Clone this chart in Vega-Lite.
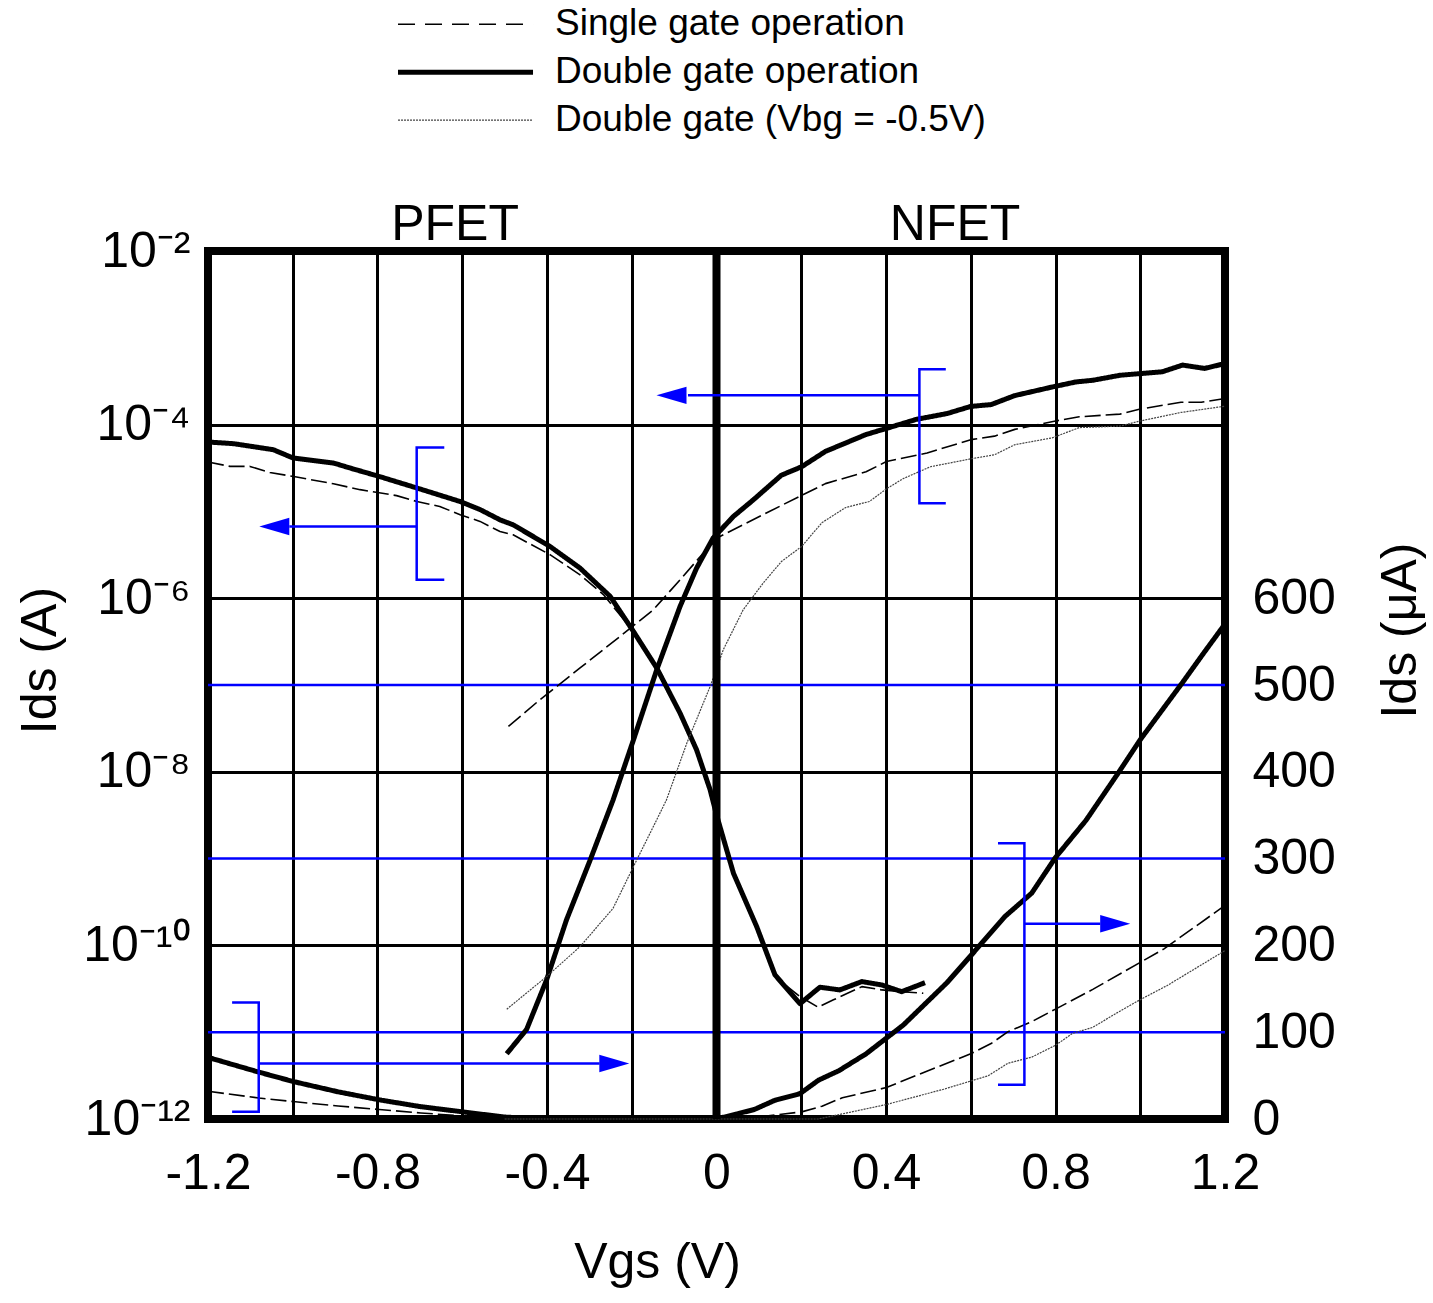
{
  "$schema": "https://vega.github.io/schema/vega-lite/v6.json",
  "width": 1017,
  "height": 868,
  "autosize": {"type": "none"},
  "padding": {"left": 208, "top": 251, "right": 208, "bottom": 184},
  "background": "white",
  "config": {
    "font": "Liberation Sans",
    "view": {"stroke": "black", "strokeWidth": 8},
    "axis": {
      "labelFont": "Liberation Sans",
      "titleFont": "Liberation Sans",
      "labelColor": "black",
      "titleColor": "black",
      "labelFontSize": 50,
      "titleFontSize": 50,
      "titleFontWeight": "normal",
      "ticks": false,
      "domain": false,
      "labelOverlap": false,
      "labelFlush": false
    }
  },
  "datasets": {
    "bluegrid": [{"uA": 100}, {"uA": 300}, {"uA": 500}],
    "zero": [{"v": 0}],
    "logc": [
      {"s": "DG", "c": "P", "v": -1.2, "I": 6.3e-5},
      {"s": "DG", "c": "P", "v": -1.14, "I": 6.03e-5},
      {"s": "DG", "c": "P", "v": -1.046, "I": 5.14e-5},
      {"s": "DG", "c": "P", "v": -0.999, "I": 4.12e-5},
      {"s": "DG", "c": "P", "v": -0.904, "I": 3.61e-5},
      {"s": "DG", "c": "P", "v": -0.857, "I": 3.08e-5},
      {"s": "DG", "c": "P", "v": -0.802, "I": 2.58e-5},
      {"s": "DG", "c": "P", "v": -0.707, "I": 1.86e-5},
      {"s": "DG", "c": "P", "v": -0.605, "I": 1.3e-5},
      {"s": "DG", "c": "P", "v": -0.558, "I": 1.05e-5},
      {"s": "DG", "c": "P", "v": -0.511, "I": 8.0e-6},
      {"s": "DG", "c": "P", "v": -0.48, "I": 7.01e-6},
      {"s": "DG", "c": "P", "v": -0.394, "I": 3.98e-6},
      {"s": "DG", "c": "P", "v": -0.322, "I": 2.22e-6},
      {"s": "DG", "c": "P", "v": -0.251, "I": 1.05e-6},
      {"s": "DG", "c": "P", "v": -0.196, "I": 4.14e-7},
      {"s": "DG", "c": "P", "v": -0.141, "I": 1.57e-7},
      {"s": "DG", "c": "P", "v": -0.086, "I": 4.74e-8},
      {"s": "DG", "c": "P", "v": -0.047, "I": 1.79e-8},
      {"s": "DG", "c": "P", "v": -0.015, "I": 6.19e-9},
      {"s": "DG", "c": "P", "v": 0.0, "I": 3.2e-9},
      {"s": "DG", "c": "P", "v": 0.04, "I": 6.79e-10},
      {"s": "DG", "c": "P", "v": 0.095, "I": 1.64e-10},
      {"s": "DG", "c": "P", "v": 0.138, "I": 4.57e-11},
      {"s": "DG", "c": "P", "v": 0.197, "I": 2.13e-11},
      {"s": "DG", "c": "P", "v": 0.244, "I": 3.3e-11},
      {"s": "DG", "c": "P", "v": 0.291, "I": 3.07e-11},
      {"s": "DG", "c": "P", "v": 0.343, "I": 3.83e-11},
      {"s": "DG", "c": "P", "v": 0.39, "I": 3.5e-11},
      {"s": "DG", "c": "P", "v": 0.437, "I": 2.93e-11},
      {"s": "DG", "c": "P", "v": 0.492, "I": 3.72e-11},

      {"s": "SG", "c": "P", "v": -1.2, "I": 3.7e-5},
      {"s": "SG", "c": "P", "v": -1.148, "I": 3.3e-5},
      {"s": "SG", "c": "P", "v": -1.101, "I": 3.3e-5},
      {"s": "SG", "c": "P", "v": -1.054, "I": 2.81e-5},
      {"s": "SG", "c": "P", "v": -0.991, "I": 2.49e-5},
      {"s": "SG", "c": "P", "v": -0.904, "I": 2.08e-5},
      {"s": "SG", "c": "P", "v": -0.841, "I": 1.78e-5},
      {"s": "SG", "c": "P", "v": -0.755, "I": 1.52e-5},
      {"s": "SG", "c": "P", "v": -0.707, "I": 1.3e-5},
      {"s": "SG", "c": "P", "v": -0.653, "I": 1.14e-5},
      {"s": "SG", "c": "P", "v": -0.605, "I": 9.16e-6},
      {"s": "SG", "c": "P", "v": -0.558, "I": 7.67e-6},
      {"s": "SG", "c": "P", "v": -0.511, "I": 5.87e-6},
      {"s": "SG", "c": "P", "v": -0.48, "I": 5.38e-6},
      {"s": "SG", "c": "P", "v": -0.393, "I": 3.17e-6},
      {"s": "SG", "c": "P", "v": -0.322, "I": 1.86e-6},
      {"s": "SG", "c": "P", "v": -0.267, "I": 1.1e-6},
      {"s": "SG", "c": "P", "v": -0.196, "I": 4.14e-7},
      {"s": "SG", "c": "P", "v": -0.141, "I": 1.57e-7},
      {"s": "SG", "c": "P", "v": -0.086, "I": 4.74e-8},
      {"s": "SG", "c": "P", "v": -0.047, "I": 1.79e-8},
      {"s": "SG", "c": "P", "v": -0.015, "I": 6.19e-9},
      {"s": "SG", "c": "P", "v": 0.0, "I": 3.2e-9},
      {"s": "SG", "c": "P", "v": 0.04, "I": 6.79e-10},
      {"s": "SG", "c": "P", "v": 0.095, "I": 1.64e-10},
      {"s": "SG", "c": "P", "v": 0.142, "I": 4.18e-11},
      {"s": "SG", "c": "P", "v": 0.197, "I": 2.57e-11},
      {"s": "SG", "c": "P", "v": 0.24, "I": 1.94e-11},
      {"s": "SG", "c": "P", "v": 0.276, "I": 2.36e-11},
      {"s": "SG", "c": "P", "v": 0.343, "I": 3.35e-11},
      {"s": "SG", "c": "P", "v": 0.39, "I": 3.07e-11},
      {"s": "SG", "c": "P", "v": 0.437, "I": 2.93e-11},
      {"s": "SG", "c": "P", "v": 0.488, "I": 2.81e-11},

      {"s": "DG", "c": "N", "v": -0.495, "I": 5.65e-12},
      {"s": "DG", "c": "N", "v": -0.448, "I": 1.08e-11},
      {"s": "DG", "c": "N", "v": -0.401, "I": 4.0e-11},
      {"s": "DG", "c": "N", "v": -0.354, "I": 1.97e-10},
      {"s": "DG", "c": "N", "v": -0.298, "I": 9.66e-10},
      {"s": "DG", "c": "N", "v": -0.244, "I": 4.75e-9},
      {"s": "DG", "c": "N", "v": -0.196, "I": 2.33e-8},
      {"s": "DG", "c": "N", "v": -0.141, "I": 1.5e-7},
      {"s": "DG", "c": "N", "v": -0.086, "I": 8.04e-7},
      {"s": "DG", "c": "N", "v": -0.047, "I": 2.22e-6},
      {"s": "DG", "c": "N", "v": -0.008, "I": 4.93e-6},
      {"s": "DG", "c": "N", "v": 0.04, "I": 8.75e-6},
      {"s": "DG", "c": "N", "v": 0.087, "I": 1.36e-5},
      {"s": "DG", "c": "N", "v": 0.153, "I": 2.61e-5},
      {"s": "DG", "c": "N", "v": 0.201, "I": 3.27e-5},
      {"s": "DG", "c": "N", "v": 0.257, "I": 4.91e-5},
      {"s": "DG", "c": "N", "v": 0.353, "I": 7.69e-5},
      {"s": "DG", "c": "N", "v": 0.401, "I": 9.04e-5},
      {"s": "DG", "c": "N", "v": 0.472, "I": 1.15e-4},
      {"s": "DG", "c": "N", "v": 0.544, "I": 1.34e-4},
      {"s": "DG", "c": "N", "v": 0.6, "I": 1.62e-4},
      {"s": "DG", "c": "N", "v": 0.648, "I": 1.7e-4},
      {"s": "DG", "c": "N", "v": 0.704, "I": 2.16e-4},
      {"s": "DG", "c": "N", "v": 0.792, "I": 2.71e-4},
      {"s": "DG", "c": "N", "v": 0.848, "I": 3.1e-4},
      {"s": "DG", "c": "N", "v": 0.888, "I": 3.24e-4},
      {"s": "DG", "c": "N", "v": 0.952, "I": 3.7e-4},
      {"s": "DG", "c": "N", "v": 1.0, "I": 3.87e-4},
      {"s": "DG", "c": "N", "v": 1.052, "I": 4.06e-4},
      {"s": "DG", "c": "N", "v": 1.1, "I": 4.85e-4},
      {"s": "DG", "c": "N", "v": 1.152, "I": 4.44e-4},
      {"s": "DG", "c": "N", "v": 1.2, "I": 5.05e-4},

      {"s": "SG", "c": "N", "v": -0.491, "I": 3.33e-8},
      {"s": "SG", "c": "N", "v": -0.417, "I": 6.75e-8},
      {"s": "SG", "c": "N", "v": -0.322, "I": 1.57e-7},
      {"s": "SG", "c": "N", "v": -0.228, "I": 3.62e-7},
      {"s": "SG", "c": "N", "v": -0.149, "I": 7.36e-7},
      {"s": "SG", "c": "N", "v": -0.086, "I": 1.63e-6},
      {"s": "SG", "c": "N", "v": -0.031, "I": 3.31e-6},
      {"s": "SG", "c": "N", "v": 0.008, "I": 5.15e-6},
      {"s": "SG", "c": "N", "v": 0.071, "I": 7.35e-6},
      {"s": "SG", "c": "N", "v": 0.153, "I": 1.17e-5},
      {"s": "SG", "c": "N", "v": 0.257, "I": 2.09e-5},
      {"s": "SG", "c": "N", "v": 0.353, "I": 2.86e-5},
      {"s": "SG", "c": "N", "v": 0.401, "I": 3.75e-5},
      {"s": "SG", "c": "N", "v": 0.497, "I": 4.7e-5},
      {"s": "SG", "c": "N", "v": 0.6, "I": 6.71e-5},
      {"s": "SG", "c": "N", "v": 0.656, "I": 7.36e-5},
      {"s": "SG", "c": "N", "v": 0.704, "I": 8.81e-5},
      {"s": "SG", "c": "N", "v": 0.8, "I": 1.1e-4},
      {"s": "SG", "c": "N", "v": 0.856, "I": 1.23e-4},
      {"s": "SG", "c": "N", "v": 0.952, "I": 1.32e-4},
      {"s": "SG", "c": "N", "v": 1.0, "I": 1.51e-4},
      {"s": "SG", "c": "N", "v": 1.096, "I": 1.81e-4},
      {"s": "SG", "c": "N", "v": 1.144, "I": 1.81e-4},
      {"s": "SG", "c": "N", "v": 1.2, "I": 2.0e-4},

      {"s": "VBG", "c": "N", "v": -0.495, "I": 1.84e-11},
      {"s": "VBG", "c": "N", "v": -0.401, "I": 4.37e-11},
      {"s": "VBG", "c": "N", "v": -0.322, "I": 9.68e-11},
      {"s": "VBG", "c": "N", "v": -0.244, "I": 2.68e-10},
      {"s": "VBG", "c": "N", "v": -0.196, "I": 8.09e-10},
      {"s": "VBG", "c": "N", "v": -0.149, "I": 2.34e-9},
      {"s": "VBG", "c": "N", "v": -0.118, "I": 4.75e-9},
      {"s": "VBG", "c": "N", "v": -0.07, "I": 2.14e-8},
      {"s": "VBG", "c": "N", "v": -0.015, "I": 9.61e-8},
      {"s": "VBG", "c": "N", "v": 0.016, "I": 2.55e-7},
      {"s": "VBG", "c": "N", "v": 0.063, "I": 7.36e-7},
      {"s": "VBG", "c": "N", "v": 0.11, "I": 1.49e-6},
      {"s": "VBG", "c": "N", "v": 0.153, "I": 2.64e-6},
      {"s": "VBG", "c": "N", "v": 0.201, "I": 3.95e-6},
      {"s": "VBG", "c": "N", "v": 0.249, "I": 7.43e-6},
      {"s": "VBG", "c": "N", "v": 0.305, "I": 1.11e-5},
      {"s": "VBG", "c": "N", "v": 0.361, "I": 1.3e-5},
      {"s": "VBG", "c": "N", "v": 0.401, "I": 1.82e-5},
      {"s": "VBG", "c": "N", "v": 0.441, "I": 2.39e-5},
      {"s": "VBG", "c": "N", "v": 0.505, "I": 3.27e-5},
      {"s": "VBG", "c": "N", "v": 0.6, "I": 4.03e-5},
      {"s": "VBG", "c": "N", "v": 0.656, "I": 4.49e-5},
      {"s": "VBG", "c": "N", "v": 0.704, "I": 5.87e-5},
      {"s": "VBG", "c": "N", "v": 0.792, "I": 7.03e-5},
      {"s": "VBG", "c": "N", "v": 0.856, "I": 9.23e-5},
      {"s": "VBG", "c": "N", "v": 0.952, "I": 9.62e-5},
      {"s": "VBG", "c": "N", "v": 1.0, "I": 1.1e-4},
      {"s": "VBG", "c": "N", "v": 1.096, "I": 1.38e-4},
      {"s": "VBG", "c": "N", "v": 1.2, "I": 1.63e-4}
    ],
    "linc": [
      {"s": "DG", "c": "P", "v": -1.2, "uA": 71},
      {"s": "DG", "c": "P", "v": -1.08, "uA": 54},
      {"s": "DG", "c": "P", "v": -0.999, "uA": 43.2},
      {"s": "DG", "c": "P", "v": -0.893, "uA": 31.3},
      {"s": "DG", "c": "P", "v": -0.796, "uA": 22.1},
      {"s": "DG", "c": "P", "v": -0.698, "uA": 14.2},
      {"s": "DG", "c": "P", "v": -0.6, "uA": 8.3},
      {"s": "DG", "c": "P", "v": -0.502, "uA": 2.3},
      {"s": "DG", "c": "P", "v": -0.404, "uA": 0},

      {"s": "SG", "c": "P", "v": -1.2, "uA": 32},
      {"s": "SG", "c": "P", "v": -1.08, "uA": 24.2},
      {"s": "SG", "c": "P", "v": -0.999, "uA": 20.1},
      {"s": "SG", "c": "P", "v": -0.893, "uA": 15},
      {"s": "SG", "c": "P", "v": -0.796, "uA": 11},
      {"s": "SG", "c": "P", "v": -0.698, "uA": 7},
      {"s": "SG", "c": "P", "v": -0.6, "uA": 3.5},
      {"s": "SG", "c": "P", "v": -0.502, "uA": 0.5},
      {"s": "SG", "c": "P", "v": -0.4, "uA": 0},

      {"s": "DG", "c": "N", "v": 0.0, "uA": 0},
      {"s": "DG", "c": "N", "v": 0.089, "uA": 10.9},
      {"s": "DG", "c": "N", "v": 0.137, "uA": 21.4},
      {"s": "DG", "c": "N", "v": 0.197, "uA": 29.2},
      {"s": "DG", "c": "N", "v": 0.241, "uA": 44.8},
      {"s": "DG", "c": "N", "v": 0.289, "uA": 55.7},
      {"s": "DG", "c": "N", "v": 0.353, "uA": 75.1},
      {"s": "DG", "c": "N", "v": 0.441, "uA": 108.3},
      {"s": "DG", "c": "N", "v": 0.544, "uA": 157.1},
      {"s": "DG", "c": "N", "v": 0.6, "uA": 188.1},
      {"s": "DG", "c": "N", "v": 0.68, "uA": 233},
      {"s": "DG", "c": "N", "v": 0.744, "uA": 260.3},
      {"s": "DG", "c": "N", "v": 0.8, "uA": 301.3},
      {"s": "DG", "c": "N", "v": 0.872, "uA": 344.1},
      {"s": "DG", "c": "N", "v": 0.95, "uA": 400},
      {"s": "DG", "c": "N", "v": 1.0, "uA": 437},
      {"s": "DG", "c": "N", "v": 1.05, "uA": 470},
      {"s": "DG", "c": "N", "v": 1.1, "uA": 503},
      {"s": "DG", "c": "N", "v": 1.15, "uA": 537},
      {"s": "DG", "c": "N", "v": 1.195, "uA": 567},

      {"s": "SG", "c": "N", "v": 0.05, "uA": 0},
      {"s": "SG", "c": "N", "v": 0.1, "uA": 2.5},
      {"s": "SG", "c": "N", "v": 0.201, "uA": 8.2},
      {"s": "SG", "c": "N", "v": 0.249, "uA": 14.8},
      {"s": "SG", "c": "N", "v": 0.297, "uA": 24.5},
      {"s": "SG", "c": "N", "v": 0.401, "uA": 36.2},
      {"s": "SG", "c": "N", "v": 0.489, "uA": 53.7},
      {"s": "SG", "c": "N", "v": 0.6, "uA": 75.1},
      {"s": "SG", "c": "N", "v": 0.648, "uA": 86.9},
      {"s": "SG", "c": "N", "v": 0.688, "uA": 100.6},
      {"s": "SG", "c": "N", "v": 0.744, "uA": 112.2},
      {"s": "SG", "c": "N", "v": 0.8, "uA": 126.6},
      {"s": "SG", "c": "N", "v": 0.888, "uA": 149.3},
      {"s": "SG", "c": "N", "v": 1.0, "uA": 180.4},
      {"s": "SG", "c": "N", "v": 1.056, "uA": 196},
      {"s": "SG", "c": "N", "v": 1.2, "uA": 246},

      {"s": "VBG", "c": "N", "v": -0.5, "uA": 0},
      {"s": "VBG", "c": "N", "v": 0.24, "uA": 0},
      {"s": "VBG", "c": "N", "v": 0.401, "uA": 16.7},
      {"s": "VBG", "c": "N", "v": 0.536, "uA": 34.3},
      {"s": "VBG", "c": "N", "v": 0.641, "uA": 49.8},
      {"s": "VBG", "c": "N", "v": 0.688, "uA": 64.3},
      {"s": "VBG", "c": "N", "v": 0.744, "uA": 71.3},
      {"s": "VBG", "c": "N", "v": 0.8, "uA": 84.9},
      {"s": "VBG", "c": "N", "v": 0.84, "uA": 98.6},
      {"s": "VBG", "c": "N", "v": 0.888, "uA": 105.6},
      {"s": "VBG", "c": "N", "v": 0.944, "uA": 122},
      {"s": "VBG", "c": "N", "v": 1.0, "uA": 137.5},
      {"s": "VBG", "c": "N", "v": 1.064, "uA": 153.9},
      {"s": "VBG", "c": "N", "v": 1.2, "uA": 194}
    ],
    "brackets": [
      {"id": "B1", "k": 0, "v": -0.6424, "uA": 773.6},
      {"id": "B1", "k": 1, "v": -0.7075, "uA": 773.6},
      {"id": "B1", "k": 2, "v": -0.7075, "uA": 621.4},
      {"id": "B1", "k": 3, "v": -0.6424, "uA": 621.4},
      {"id": "B2", "k": 0, "v": 0.5411, "uA": 863.8},
      {"id": "B2", "k": 1, "v": 0.4788, "uA": 863.8},
      {"id": "B2", "k": 2, "v": 0.4788, "uA": 709.4},
      {"id": "B2", "k": 3, "v": 0.5411, "uA": 709.4},
      {"id": "B3", "k": 0, "v": -1.1431, "uA": 134.2},
      {"id": "B3", "k": 1, "v": -1.0803, "uA": 134.2},
      {"id": "B3", "k": 2, "v": -1.0803, "uA": 8.3},
      {"id": "B3", "k": 3, "v": -1.1431, "uA": 8.3},
      {"id": "B4", "k": 0, "v": 0.6643, "uA": 317.6},
      {"id": "B4", "k": 1, "v": 0.7266, "uA": 317.6},
      {"id": "B4", "k": 2, "v": 0.7266, "uA": 39.4},
      {"id": "B4", "k": 3, "v": 0.6643, "uA": 39.4}
    ],
    "arrows": [
      {"id": "A1", "v1": -0.7075, "v2": -1.0081, "vh": -1.0435, "uA": 682.6, "dir": "left"},
      {"id": "A2", "v1": 0.4788, "v2": -0.0673, "vh": -0.1062, "uA": 833.7, "dir": "left"},
      {"id": "A3", "v1": -1.0803, "v2": -0.2759, "vh": -0.2412, "uA": 63.9, "dir": "right"},
      {"id": "A4", "v1": 0.7266, "v2": 0.9057, "vh": 0.9409, "uA": 224.9, "dir": "right"}
    ],
    "legend": [
      {"s": "SG", "v1": -0.7516, "v2": -0.433, "vt": -0.3811, "uA": 1261.2, "label": "Single gate operation"},
      {"s": "DG", "v1": -0.7516, "v2": -0.433, "vt": -0.3811, "uA": 1206.0, "label": "Double gate operation"},
      {"s": "VBG", "v1": -0.7516, "v2": -0.433, "vt": -0.3811, "uA": 1150.7, "label": "Double gate (Vbg = -0.5V)"}
    ],
    "titles": [
      {"t": "PFET", "v": -0.617, "uA": 1013},
      {"t": "NFET", "v": 0.563, "uA": 1013}
    ]
  },
  "layer": [
    {
      "data": {"name": "bluegrid"},
      "mark": {"type": "rule", "color": "#0000FF", "strokeWidth": 2.5},
      "encoding": {
        "y": {"field": "uA", "type": "quantitative", "scale": {"domain": [0, 1000], "nice": false, "zero": false}, "axis": null}
      }
    },
    {
      "data": {"name": "logc"},
      "mark": {"type": "line", "strokeJoin": "round"},
      "encoding": {
        "x": {
          "field": "v", "type": "quantitative",
          "scale": {"domain": [-1.2, 1.2], "nice": false, "zero": false},
          "axis": {
            "orient": "bottom",
            "values": [-1.2, -1.0, -0.8, -0.6, -0.4, -0.2, 0, 0.2, 0.4, 0.6, 0.8, 1.0, 1.2],
            "labelExpr": "abs(round(datum.value*10)) % 4 == 0 ? (abs(datum.value) < 0.01 ? '0' : replace(format(datum.value, '.1f'), '−', '-')) : ''",
            "grid": true, "gridColor": "black", "gridWidth": 3, "gridOpacity": 1,
            "labelPadding": 29,
            "title": "Vgs (V)",
            "titleX": 449, "titleY": 143, "titleBaseline": "middle", "titleAlign": "center"
          }
        },
        "y": {
          "field": "I", "type": "quantitative",
          "scale": {"type": "log", "domain": [1e-12, 1e-2], "nice": false},
          "axis": {
            "orient": "left",
            "values": [1e-12, 1e-10, 1e-8, 1e-6, 1e-4, 1e-2],
            "labelExpr": "'10' + replace(replace(replace(replace(replace(replace(replace(replace(format(round(log(datum.value)/LN10),'d'),'−','⁻'),'-','⁻'),'1','¹'),'0','⁰'),'2','²'),'4','⁴'),'6','⁶'),'8','⁸')",
            "grid": true, "gridColor": "black", "gridWidth": 3,
            "gridOpacity": {"condition": {"test": "datum.value > 1e-11 && datum.value < 1e-3", "value": 1}, "value": 0},
            "labelPadding": 18,
            "title": "Ids (A)",
            "titleX": -168, "titleY": 409, "titleAngle": -90, "titleBaseline": "middle", "titleAlign": "center"
          }
        },
        "detail": {"field": "c"},
        "color": {"field": "s", "type": "nominal", "scale": {"type": "ordinal", "domain": ["SG", "DG", "VBG"], "range": ["#000000", "#000000", "#444444"]}, "legend": null},
        "strokeWidth": {"field": "s", "type": "nominal", "scale": {"type": "ordinal", "domain": ["SG", "DG", "VBG"], "range": [1.6, 5, 1.2]}, "legend": null},
        "strokeDash": {"field": "s", "type": "nominal", "scale": {"type": "ordinal", "domain": ["SG", "DG", "VBG"], "range": [[16, 5], [1, 0], [2, 1]]}, "legend": null}
      }
    },
    {
      "layer": [
        {
          "data": {"name": "linc"},
          "mark": {"type": "line", "strokeJoin": "round"},
          "encoding": {
            "x": {"field": "v", "type": "quantitative", "scale": {"domain": [-1.2, 1.2], "nice": false, "zero": false}},
            "y": {
              "field": "uA", "type": "quantitative",
              "scale": {"domain": [0, 1000], "nice": false, "zero": false},
              "axis": {
                "orient": "right",
                "values": [0, 100, 200, 300, 400, 500, 600],
                "grid": false,
                "labelPadding": 27,
                "title": "Ids (μA)",
                "titleX": 175, "titleY": 379, "titleAngle": -90, "titleBaseline": "middle", "titleAlign": "center"
              }
            },
            "detail": {"field": "c"},
            "color": {"field": "s", "type": "nominal", "scale": {"type": "ordinal", "domain": ["SG", "DG", "VBG"], "range": ["#000000", "#000000", "#444444"]}, "legend": null},
            "strokeWidth": {"field": "s", "type": "nominal", "scale": {"type": "ordinal", "domain": ["SG", "DG", "VBG"], "range": [1.6, 5, 1.2]}, "legend": null},
            "strokeDash": {"field": "s", "type": "nominal", "scale": {"type": "ordinal", "domain": ["SG", "DG", "VBG"], "range": [[16, 5], [1, 0], [2, 1]]}, "legend": null}
          }
        },
        {
          "data": {"name": "zero"},
          "mark": {"type": "rule", "color": "black", "strokeWidth": 8},
          "encoding": {
            "x": {"field": "v", "type": "quantitative", "scale": {"domain": [-1.2, 1.2], "nice": false, "zero": false}}
          }
        },
        {
          "data": {"name": "brackets"},
          "mark": {"type": "line", "color": "#0000FF", "strokeWidth": 2.5, "strokeJoin": "miter"},
          "encoding": {
            "x": {"field": "v", "type": "quantitative", "scale": {"domain": [-1.2, 1.2], "nice": false, "zero": false}},
            "y": {"field": "uA", "type": "quantitative", "scale": {"domain": [0, 1000], "nice": false, "zero": false}},
            "detail": {"field": "id"},
            "order": {"field": "k", "type": "quantitative"}
          }
        },
        {
          "data": {"name": "arrows"},
          "mark": {"type": "rule", "color": "#0000FF", "strokeWidth": 2.5},
          "encoding": {
            "x": {"field": "v1", "type": "quantitative", "scale": {"domain": [-1.2, 1.2], "nice": false, "zero": false}},
            "x2": {"field": "v2"},
            "y": {"field": "uA", "type": "quantitative", "scale": {"domain": [0, 1000], "nice": false, "zero": false}}
          }
        },
        {
          "data": {"name": "arrows"},
          "mark": {"type": "point", "filled": true, "color": "#0000FF", "opacity": 1, "size": 900, "strokeWidth": 0},
          "encoding": {
            "x": {"field": "vh", "type": "quantitative", "scale": {"domain": [-1.2, 1.2], "nice": false, "zero": false}},
            "y": {"field": "uA", "type": "quantitative", "scale": {"domain": [0, 1000], "nice": false, "zero": false}},
            "shape": {"field": "dir", "type": "nominal", "scale": {"domain": ["left", "right"], "range": ["M -1 0 L 1 -0.58 L 1 0.58 Z", "M 1 0 L -1 -0.58 L -1 0.58 Z"]}, "legend": null}
          }
        },
        {
          "data": {"name": "legend"},
          "transform": [{"filter": "datum.s == 'SG'"}],
          "mark": {"type": "rule", "color": "black", "strokeWidth": 1.6, "strokeDash": [17, 10]},
          "encoding": {
            "x": {"field": "v1", "type": "quantitative", "scale": {"domain": [-1.2, 1.2], "nice": false, "zero": false}},
            "x2": {"field": "v2"},
            "y": {"field": "uA", "type": "quantitative", "scale": {"domain": [0, 1000], "nice": false, "zero": false}}
          }
        },
        {
          "data": {"name": "legend"},
          "transform": [{"filter": "datum.s == 'DG'"}],
          "mark": {"type": "rule", "color": "black", "strokeWidth": 5},
          "encoding": {
            "x": {"field": "v1", "type": "quantitative", "scale": {"domain": [-1.2, 1.2], "nice": false, "zero": false}},
            "x2": {"field": "v2"},
            "y": {"field": "uA", "type": "quantitative", "scale": {"domain": [0, 1000], "nice": false, "zero": false}}
          }
        },
        {
          "data": {"name": "legend"},
          "transform": [{"filter": "datum.s == 'VBG'"}],
          "mark": {"type": "rule", "color": "#444444", "strokeWidth": 1.2, "strokeDash": [2, 1]},
          "encoding": {
            "x": {"field": "v1", "type": "quantitative", "scale": {"domain": [-1.2, 1.2], "nice": false, "zero": false}},
            "x2": {"field": "v2"},
            "y": {"field": "uA", "type": "quantitative", "scale": {"domain": [0, 1000], "nice": false, "zero": false}}
          }
        },
        {
          "data": {"name": "legend"},
          "mark": {"type": "text", "align": "left", "baseline": "middle", "fontSize": 37, "font": "Liberation Sans", "color": "black"},
          "encoding": {
            "x": {"field": "vt", "type": "quantitative", "scale": {"domain": [-1.2, 1.2], "nice": false, "zero": false}},
            "y": {"field": "uA", "type": "quantitative", "scale": {"domain": [0, 1000], "nice": false, "zero": false}},
            "text": {"field": "label"}
          }
        },
        {
          "data": {"name": "titles"},
          "mark": {"type": "text", "align": "center", "baseline": "alphabetic", "fontSize": 50, "font": "Liberation Sans", "color": "black"},
          "encoding": {
            "x": {"field": "v", "type": "quantitative", "scale": {"domain": [-1.2, 1.2], "nice": false, "zero": false}},
            "y": {"field": "uA", "type": "quantitative", "scale": {"domain": [0, 1000], "nice": false, "zero": false}},
            "text": {"field": "t"}
          }
        }
      ]
    }
  ],
  "resolve": {"scale": {"y": "independent"}}
}
